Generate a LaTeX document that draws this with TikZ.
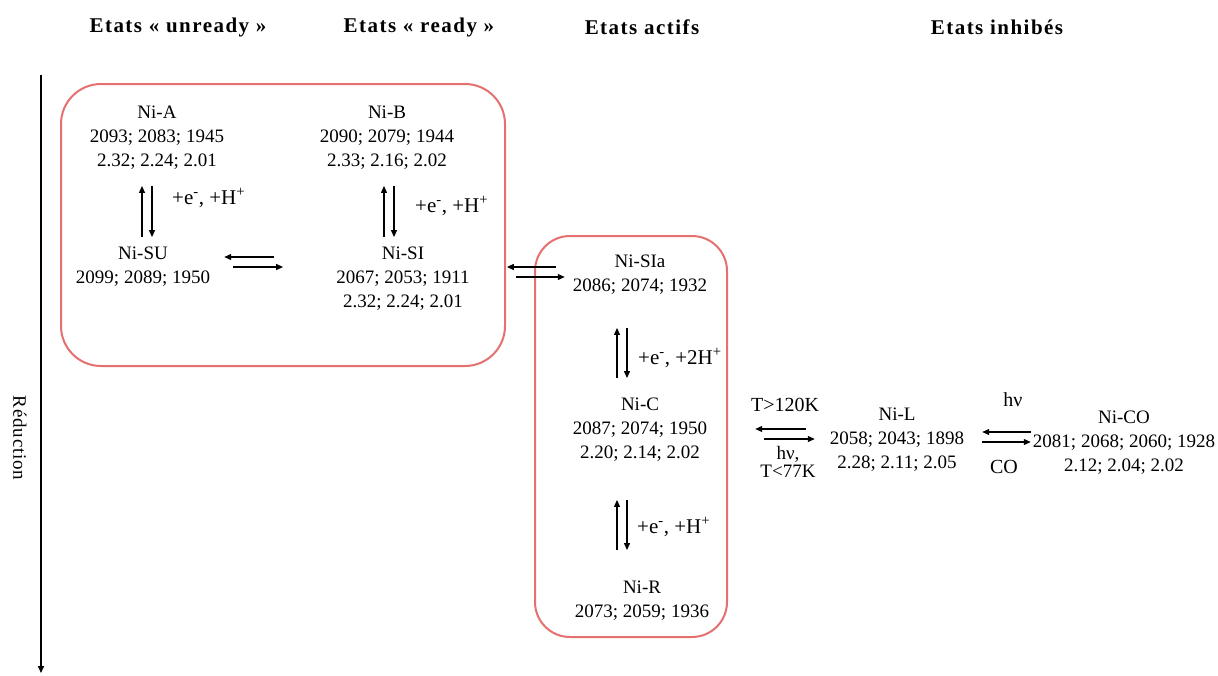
\documentclass[tikz,border=0pt]{standalone}
\usepackage{fontspec}
\setmainfont{Liberation Serif}
\usetikzlibrary{arrows.meta, calc}
\definecolor{boxred}{RGB}{228,112,112}
% #2 upper node, #3 lower node, #4 x offset, #5 gap at top, #6 gap at bottom
\newcommand\VertPair[5]{
	\draw [eq, shorten <=#5, shorten >=#4] ($(#2.north)+(#3,0)$) -- ($(#2.north |- #1.south)+(#3,0)$);
	\draw [eq, shorten <=#4, shorten >=#5] ($(#2.north |- #1.south)+(#3+10,0)$) -- ($(#2.north)+(#3+10,0)$);
}
% [#1 stagger], #2 left node, #3 right node, #4 y offset, #5 gap at left, #6 gap at right
\newcommand\HorPair[6][9pt]{
	\draw [eq, shorten <=#6+#1, shorten >=#5] ($(#2.east -| #3.west)+(0,#4)$) -- ($(#2.east)+(0,#4)$);
	\draw [eq, shorten <=#5+#1, shorten >=#6] ($(#2.east)+(0,#4+10)$) -- ($(#2.east -| #3.west)+(0,#4+10)$);
}

\begin{document}
\begin{tikzpicture}[x=1pt, y=-1pt,
	every node/.style={font=\fontsize{19}{24}\selectfont, align=center, inner sep=2pt},
	title/.style={font=\fontsize{21}{24}\selectfont\bfseries\addfontfeature{LetterSpace=7}},
	react/.style={anchor=west, font=\fontsize{21}{24}\selectfont},
	eq/.style={-{Triangle[length=7pt, width=6pt]}, line width=1.2pt},
	group/.style={draw=boxred, line width=2pt, rounded corners=40pt}]
	\useasboundingbox (0,0) rectangle (1218,675);

	% column titles
	\node (hUnready) [title] at (178,27) {Etats « unready »};
	\node (hReady) [title] at (419,27) {Etats « ready »};
	\node (hActive) [title] at (642,27) {Etats actifs};
	\node (hInhib) [title] at (997,27) {Etats inhibés};

	% groups
	\draw [group] (61,84) rectangle (505,366);
	\draw [group, rounded corners=35pt] (535,236) rectangle (727,637);

	% reduction axis
	\coordinate (axisTop) at (41,75);
	\coordinate (axisEnd) at (41,673);
	\draw [eq, line width=1.5pt] (axisTop) -- (axisEnd);
	\node (reduction) [rotate=-90, font=\fontsize{19}{24}\selectfont\addfontfeature{LetterSpace=4}] at (20,438) {Réduction};

	% states
	\node (niA) at (157,138) {Ni-A\\2093; 2083; 1945\\2.32; 2.24; 2.01};
	\node (niB) at (387,138) {Ni-B\\2090; 2079; 1944\\2.33; 2.16; 2.02};
	\node (niSU) at (143,267) {Ni-SU\\2099; 2089; 1950};
	\node (niSI) at (403,279) {Ni-SI\\2067; 2053; 1911\\2.32; 2.24; 2.01};
	\node (niSIa) at (640,275) {Ni-SIa\\2086; 2074; 1932};
	\node (niC) at (640,430) {Ni-C\\2087; 2074; 1950\\2.20; 2.14; 2.02};
	\node (niR) at (642,601) {Ni-R\\2073; 2059; 1936};
	\node (niL) at (897,440) {Ni-L\\2058; 2043; 1898\\2.28; 2.11; 2.05};
	\node (niCO) at (1124,443) {Ni-CO\\2081; 2068; 2060; 1928\\2.12; 2.04; 2.02};

	% equilibria
	\VertPair{niA}{niSU}{-1}{14pt}{8pt}
	\VertPair{niB}{niSI}{-19}{14pt}{8pt}
	\VertPair{niSIa}{niC}{-23}{31pt}{18pt}
	\VertPair{niC}{niR}{-25}{36pt}{29pt}
	\HorPair{niSU}{niSI}{-10}{12pt}{51pt}
	\HorPair{niSI}{niSIa}{-12}{35pt}{6pt}
	\HorPair{niC}{niL}{-1}{46pt}{13pt}
	\HorPair[0pt]{niL}{niCO}{-8}{16pt}{0pt}

	% labels
	\node (lblASU) [react] at (170,198) {+e\textsuperscript{-}, +H\textsuperscript{+}};
	\node (lblBSI) [react] at (413,206) {+e\textsuperscript{-}, +H\textsuperscript{+}};
	\node (lblSIaC) [react] at (636,358) {+e\textsuperscript{-}, +2H\textsuperscript{+}};
	\node (lblCR) [react] at (635,527) {+e\textsuperscript{-}, +H\textsuperscript{+}};
	\node (tHigh) [font=\fontsize{20}{24}\selectfont] at (785,405) {T>120K};
	\node (tLow) [font=\fontsize{19}{18.5}\selectfont] at (788,462) {hν,\\T<77K};
	\node (hnuCO) [font=\fontsize{20}{24}\selectfont] at (1013,400) {hν};
	\node (coIn) [font=\fontsize{20}{24}\selectfont] at (1004,467) {CO};
\end{tikzpicture}
\end{document}
